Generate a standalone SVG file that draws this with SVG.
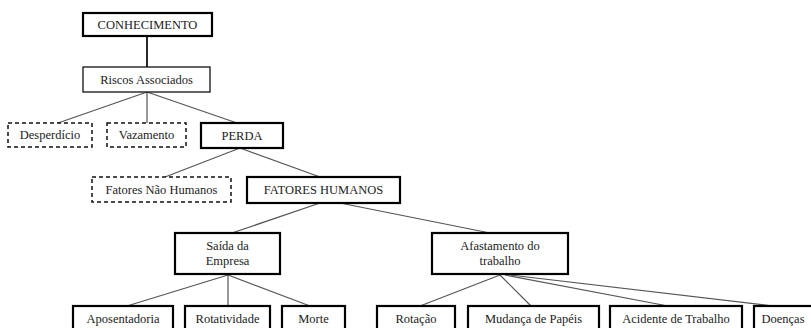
<svg xmlns="http://www.w3.org/2000/svg" width="811" height="328" viewBox="0 0 811 328">
<style>
.lbl{font-family:'Liberation Serif','Times New Roman',serif;font-size:12.5px;fill:#222;text-anchor:middle}
.b{fill:#fff;stroke:#000;stroke-width:2.2}
.t{fill:#fff;stroke:#111;stroke-width:1.3}
.d{fill:#fff;stroke:#111;stroke-width:1.5;stroke-dasharray:4 3}
#connectors line{stroke:#555;stroke-width:1.2}
</style>
<rect width="811" height="328" fill="#fff"/>
<g id="connectors">
<line x1="147" y1="36" x2="147" y2="67" style="stroke:#111;stroke-width:1.8"/>
<line x1="147" y1="92" x2="58" y2="123"/>
<line x1="147" y1="92" x2="147" y2="123"/>
<line x1="147" y1="92" x2="237" y2="123"/>
<line x1="240" y1="148" x2="165" y2="177"/>
<line x1="240" y1="148" x2="320" y2="177"/>
<line x1="320" y1="203" x2="232" y2="233"/>
<line x1="340" y1="203" x2="490" y2="233"/>
<line x1="228" y1="275" x2="127" y2="306"/>
<line x1="228" y1="275" x2="228" y2="306"/>
<line x1="228" y1="275" x2="310" y2="306"/>
<line x1="500" y1="275" x2="420" y2="306"/>
<line x1="500" y1="275" x2="531" y2="306"/>
<line x1="505" y1="275" x2="668" y2="306"/>
<line x1="510" y1="275" x2="773" y2="306"/>
</g>
<g class="lbl">
<g id="conhecimento"><rect class="b" x="83" y="13" width="129" height="23"/><text x="147.5" y="29">CONHECIMENTO</text></g>
<g id="riscos"><rect class="t" x="83" y="67" width="127" height="25"/><text x="146.5" y="84">Riscos Associados</text></g>
<g id="desperdicio"><rect class="d" x="8" y="123" width="84" height="24"/><text x="50" y="139">Desperdício</text></g>
<g id="vazamento"><rect class="d" x="107" y="123" width="79" height="24"/><text x="146.5" y="139">Vazamento</text></g>
<g id="perda"><rect class="b" x="201" y="123" width="82" height="25"/><text x="242" y="140">PERDA</text></g>
<g id="fatores-nao-humanos"><rect class="d" x="92" y="177" width="139" height="25"/><text x="161.5" y="194">Fatores Não Humanos</text></g>
<g id="fatores-humanos"><rect class="b" x="247" y="177" width="153" height="26"/><text x="323.5" y="194">FATORES HUMANOS</text></g>
<g id="saida"><rect class="b" x="175" y="233" width="105" height="41"/><text x="227.5" y="250">Saída da</text><text x="227.5" y="265">Empresa</text></g>
<g id="afastamento"><rect class="b" x="432" y="233" width="136" height="41"/><text x="500" y="250">Afastamento do</text><text x="500" y="265">trabalho</text></g>
<g id="aposentadoria"><rect class="b" x="73" y="306" width="100" height="30"/><text x="123" y="323">Aposentadoria</text></g>
<g id="rotatividade"><rect class="b" x="185" y="306" width="85" height="30"/><text x="227.5" y="323">Rotatividade</text></g>
<g id="morte"><rect class="b" x="282" y="306" width="63" height="30"/><text x="313.5" y="323">Morte</text></g>
<g id="rotacao"><rect class="b" x="377" y="306" width="78" height="30"/><text x="416" y="323">Rotação</text></g>
<g id="mudanca"><rect class="b" x="468" y="306" width="131" height="30"/><text x="533.5" y="323">Mudança de Papéis</text></g>
<g id="acidente"><rect class="b" x="610" y="306" width="132" height="30"/><text x="676" y="323">Acidente de Trabalho</text></g>
<g id="doencas"><rect class="b" x="754" y="306" width="70" height="30"/><text x="783" y="323">Doenças</text></g>
</g>
</svg>
